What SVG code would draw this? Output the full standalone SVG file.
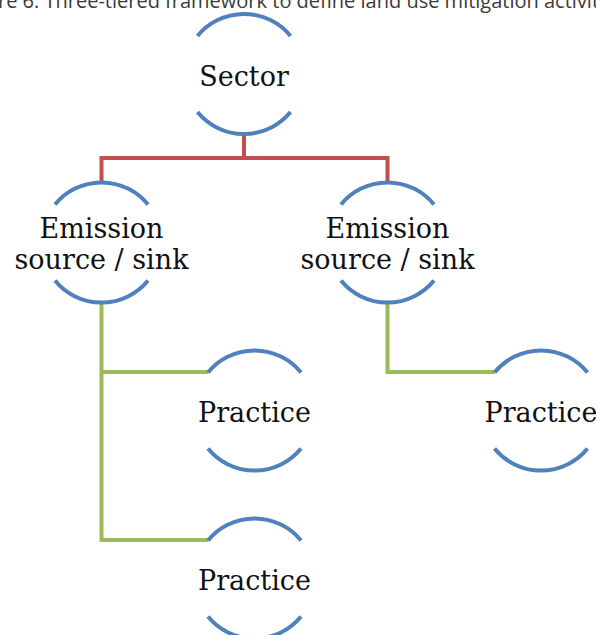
<svg xmlns="http://www.w3.org/2000/svg" width="596" height="635" viewBox="0 0 596 635">
<style>
.arc{fill:none;stroke:#4f81bd;stroke-width:4;}
.lbl{font-family:"DejaVu Serif","Liberation Serif",serif;font-size:27px;fill:#111;text-anchor:middle;}
.cap{font-family:"Open Sans","Noto Sans",sans-serif;font-size:20px;fill:#3a3a3a;}
.red{fill:none;stroke:#c0504d;stroke-width:4;}
.grn{fill:none;stroke:#9bbb59;stroke-width:4;}
</style>
<defs>
<g id="ring">
<path class="arc" d="M-46.5,-38 A60,60 0 0 1 46.5,-38"/>
<path class="arc" d="M-46.5,38 A60,60 0 0 0 46.5,38"/>
</g>
</defs>
<rect width="596" height="635" fill="#fff"/>
<text class="cap" x="-2" y="8">re 6: Three-tiered framework to define land use mitigation activiti</text>
<g id="connectors">
<path class="red" d="M244,134 V158 M101.5,182 V158 H387.5 V182"/>
<path class="grn" d="M101.5,303 V540 H208 M101.5,372 H208 M387.5,303 V372 H494.5"/>
</g>
<g id="sector">
<use href="#ring" x="244" y="74"/>
<text class="lbl" x="244" y="86">Sector</text>
</g>
<g id="emission1">
<use href="#ring" x="101.5" y="242.5"/>
<text class="lbl" x="101.5" y="238">Emission</text>
<text class="lbl" x="101.5" y="269">source / sink</text>
</g>
<g id="emission2">
<use href="#ring" x="387.5" y="242.5"/>
<text class="lbl" x="387.5" y="238">Emission</text>
<text class="lbl" x="387.5" y="269">source / sink</text>
</g>
<g id="practice1">
<use href="#ring" x="254.5" y="410.5"/>
<text class="lbl" x="254.5" y="422">Practice</text>
</g>
<g id="practice2">
<use href="#ring" x="541" y="410.5"/>
<text class="lbl" x="541" y="422">Practice</text>
</g>
<g id="practice3">
<use href="#ring" x="254.5" y="578.5"/>
<text class="lbl" x="254.5" y="590">Practice</text>
</g>
</svg>
